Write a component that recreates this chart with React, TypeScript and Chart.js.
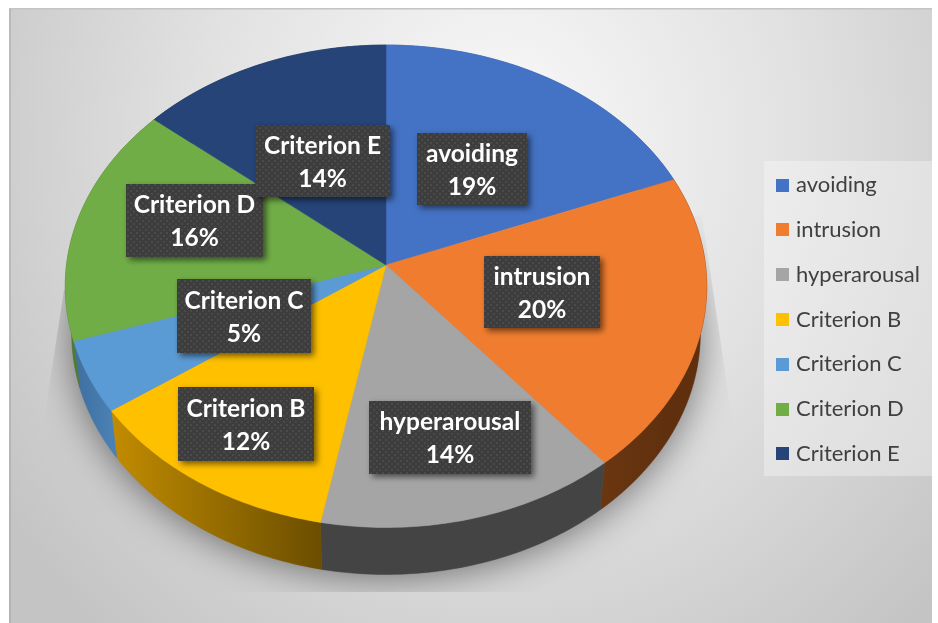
import React, { useEffect, useRef } from "react";
import { Chart, registerables } from "chart.js";

Chart.register(...registerables);

const categories = ["avoiding", "intrusion", "hyperarousal", "Criterion B", "Criterion C", "Criterion D", "Criterion E"];
const shares = [19, 20, 14, 12.2, 4.8, 16.1, 13.9];
const topColors = ["#4472C4", "#F07D2F", "#A5A5A5", "#FFC000", "#5B9BD5", "#70AD47", "#264478"];
const sideFrom = ["#2f5597", "#6a3610", "#444444", "#c28c00", "#3e6f9f", "#4f7a30", "#1a2f55"];
const sideTo = ["#2f5597", "#5f2f0e", "#444444", "#6b4e00", "#4a80b5", "#4f7a30", "#1a2f55"];

// label box rectangles: x, y, w, h
const labelBoxes = [
  [417, 133, 110, 72],
  [484, 256, 116, 72],
  [369, 401, 162, 73],
  [178, 387, 136, 74],
  [177, 279, 134, 74],
  [126, 184, 137, 73],
  [255, 125, 135, 72],
];

const CX = 386, APEX = 265, A = 319.5, B = 216, K = -0.0881;
const DEPTH = 47, SHRINK = 0.98;

const top = (ang: number, r = 1): [number, number] => {
  const u = Math.cos(ang) * r, v = Math.sin(ang) * r;
  const d = 1 + K * v;
  return [CX + (A * u) / d, (B * v + APEX) / d];
};
const bottom = (ang: number): [number, number] => {
  const [x, y] = top(ang);
  return [CX + (x - CX) * SHRINK, y + DEPTH];
};

function rimPath(ctx: CanvasRenderingContext2D, f: (a: number) => [number, number], s: number, e: number, move: boolean) {
  const n = Math.max(2, Math.ceil(Math.abs(e - s) * 60));
  for (let i = 0; i <= n; i++) {
    const p = f(s + ((e - s) * i) / n);
    if (i === 0 && move) ctx.moveTo(p[0], p[1]);
    else ctx.lineTo(p[0], p[1]);
  }
}

const swatch = (color: string) => {
  const c = document.createElement("canvas");
  c.width = 13;
  c.height = 13;
  const t = c.getContext("2d")!;
  t.fillStyle = color;
  t.fillRect(0, 0, 13, 13);
  return c;
};

const piePlugin = {
  id: "tiltedPie",
  beforeDraw(chart: any) {
    const ctx: CanvasRenderingContext2D = chart.ctx;
    ctx.save();
    ctx.fillStyle = "#ffffff";
    ctx.fillRect(0, 0, 938, 623);
    // page background
    ctx.save();
    ctx.beginPath();
    ctx.rect(9, 9, 923, 614);
    ctx.clip();
    ctx.translate(500, 140);
    ctx.scale(1, 1.1);
    const g = ctx.createRadialGradient(0, 0, 40, 0, 0, 600);
    g.addColorStop(0, "#f6f6f6");
    g.addColorStop(0.45, "#e2e2e2");
    g.addColorStop(1, "#c4c4c4");
    ctx.fillStyle = g;
    ctx.fillRect(-600, -300, 1200, 1000);
    ctx.restore();
    ctx.fillStyle = "#c4c4c4";
    ctx.fillRect(9, 8, 923, 1.5);
    ctx.fillStyle = "rgba(150,150,150,0.35)";
    ctx.fillRect(9, 9, 2, 614);
    // legend panel
    ctx.fillStyle = "rgba(255,255,255,0.32)";
    ctx.fillRect(764, 161, 170, 315);
    ctx.restore();
  },
  beforeDatasetDraw(chart: any) {
    const ctx: CanvasRenderingContext2D = chart.ctx;
    const arcs = chart.getDatasetMeta(0).data;
    // floor shadow, cut to the wedge it falls on
    ctx.save();
    ctx.beginPath();
    ctx.moveTo(64, 290);
    ctx.lineTo(44, 420);
    ctx.lineTo(44, 592);
    ctx.lineTo(880, 592);
    ctx.lineTo(732, 420);
    ctx.lineTo(702, 215);
    ctx.closePath();
    ctx.clip();
    ctx.shadowColor = "rgba(0,0,0,0.5)";
    ctx.shadowBlur = 38;
    ctx.shadowOffsetY = 3;
    ctx.fillStyle = "#888888";
    ctx.beginPath();
    rimPath(ctx, bottom, 0, Math.PI * 2, true);
    ctx.closePath();
    ctx.fill();
    ctx.restore();

    // side walls
    arcs.forEach((arc: any, i: number) => {
      const { startAngle: s, endAngle: e } = arc;
      const a = top(s), b = top(e);
      const grad = ctx.createLinearGradient(Math.min(a[0], b[0]), 0, Math.max(a[0], b[0]), 0);
      grad.addColorStop(0, sideFrom[i]);
      grad.addColorStop(1, sideTo[i]);
      ctx.beginPath();
      rimPath(ctx, top, s, e, true);
      rimPath(ctx, bottom, e, s, false);
      ctx.closePath();
      ctx.fillStyle = grad;
      ctx.strokeStyle = grad;
      ctx.lineWidth = 0.5;
      ctx.fill();
      ctx.stroke();
    });

    // top face
    arcs.forEach((arc: any, i: number) => {
      const { startAngle: s, endAngle: e } = arc;
      ctx.beginPath();
      ctx.moveTo(CX, APEX);
      rimPath(ctx, top, s, e, false);
      ctx.closePath();
      ctx.fillStyle = topColors[i];
      ctx.strokeStyle = topColors[i];
      ctx.lineWidth = 0.5;
      ctx.fill();
      ctx.stroke();
    });
    return false;
  },
  afterDatasetsDraw(chart: any) {
    const ctx: CanvasRenderingContext2D = chart.ctx;
    const tile = document.createElement("canvas");
    tile.width = 6;
    tile.height = 6;
    const t = tile.getContext("2d")!;
    t.fillStyle = "#3d3d3d";
    t.fillRect(0, 0, 6, 6);
    t.fillStyle = "#4a4a4a";
    t.fillRect(1, 1, 2, 2);
    t.fillRect(4, 4, 2, 2);
    const pattern = ctx.createPattern(tile, "repeat")!;
    categories.forEach((name, i) => {
      const [x, y, w, h] = labelBoxes[i];
      ctx.save();
      ctx.shadowColor = "rgba(0,0,0,0.55)";
      ctx.shadowBlur = 6;
      ctx.shadowOffsetX = 3;
      ctx.shadowOffsetY = 3;
      ctx.fillStyle = pattern;
      ctx.fillRect(x, y, w, h);
      ctx.restore();
      ctx.save();
      ctx.fillStyle = "#ffffff";
      ctx.font = "bold 24.5px Lato, Carlito, sans-serif";
      ctx.textAlign = "center";
      ctx.textBaseline = "middle";
      ctx.fillText(name, x + w / 2, y + h / 2 - 15);
      ctx.fillText(Math.round(shares[i]) + "%", x + w / 2, y + h / 2 + 18);
      ctx.restore();
    });
  },
};

export default function App() {
  const ref = useRef<HTMLCanvasElement>(null);
  useEffect(() => {
    const chart = new Chart(ref.current!, {
      type: "pie",
      data: {
        labels: categories,
        datasets: [{ data: shares, backgroundColor: topColors, borderWidth: 0 }],
      },
      options: {
        responsive: false,
        animation: false,
        events: [],
        layout: { padding: { top: 16, right: 8 } },
        plugins: {
          tooltip: { enabled: false },
          legend: {
            position: "right",
            labels: {
              usePointStyle: true,
              boxWidth: 5,
              boxHeight: 13,
              padding: 22.8,
              color: "#404040",
              font: { family: "Lato, Carlito, sans-serif", size: 22 },
              generateLabels: () =>
                categories.map((text, i) => ({
                  text,
                  fillStyle: topColors[i],
                  strokeStyle: topColors[i],
                  lineWidth: 0,
                  pointStyle: swatch(topColors[i]),
                  fontColor: "#404040",
                  hidden: false,
                  index: i,
                })),
            },
          },
        },
      },
      plugins: [piePlugin],
    } as any);
    return () => chart.destroy();
  }, []);
  return (
    <div style={{ position: "fixed", left: 0, top: 0, width: 938, height: 623 }}>
      <canvas ref={ref} width={938} height={623} style={{ display: "block" }} />
    </div>
  );
}
